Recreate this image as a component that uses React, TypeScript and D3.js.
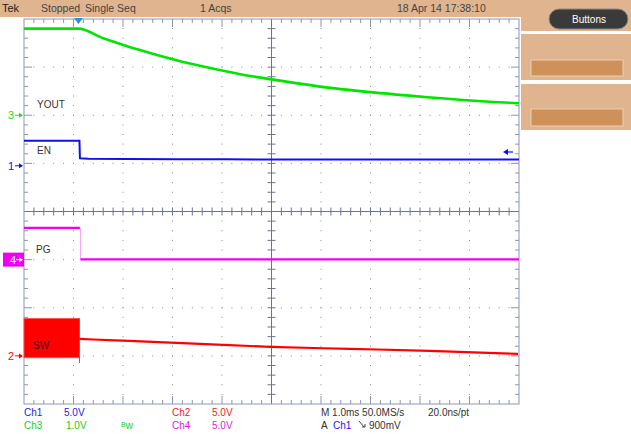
import React from 'react';
import * as d3 from 'd3';

// scope settings
const timeDomain = [-1.1, 8.9]; // ms, 1.0 ms/div, trigger at 0
const divsX = 10;
const divsY = 8;

// YOUT (Ch3, 1.0 V/div)
const youtT = [-1.1, 0, 0.5, 1, 1.5, 2, 2.5, 3, 3.5, 4, 5, 6, 7, 8, 8.9];
const youtV = [1.8, 1.8, 1.6, 1.43, 1.28, 1.14, 1.02, 0.91, 0.81, 0.73, 0.58, 0.47, 0.38, 0.3, 0.25];

// EN (Ch1, 5.0 V/div)
const enT = [-1.1, 0.02, 0.03, 0.2, 1, 2, 3, 4, 5, 6, 7, 8, 8.9];
const enV = [2.6, 2.6, 0.78, 0.72, 0.7, 0.68, 0.67, 0.66, 0.66, 0.65, 0.65, 0.65, 0.65];

// PG (Ch4, 5.0 V/div)
const pgHighT = [-1.1, 0.03];
const pgHighV = [3.3, 3.3];
const pgLowT = [0.04, 8.9];
const pgLowV = [0.02, 0.02];

// SW (Ch2, 5.0 V/div): switching burst then decay
const swBurst = { start: -1.1, end: 0.02, high: 3.9, low: -0.2, spike: -0.75 };
const swT = [0.02, 0.3, 1.03, 2.45, 3.87, 5.48, 7.1, 8.88];
const swV = [1.77, 1.7, 1.56, 1.25, 0.94, 0.73, 0.52, 0.21];

const channels = {
  ch1: { offset: 0.95, vdiv: 5, color: '#1010ee' },
  ch2: { offset: -3.0, vdiv: 5, color: '#ff0000' },
  ch3: { offset: 2.0, vdiv: 1, color: '#00e600' },
  ch4: { offset: -1.0, vdiv: 5, color: '#f000f0' },
};

const W = 631;
const H = 434;
const left = 24, right = 519, top = 19, bottom = 404;
const tan = '#dfb48e';
const gridCol = '#6a7296';
const frameCol = '#8c95b8';
const font = '"Liberation Sans", Arial, sans-serif';

const App: React.FC = () => {
  const x = d3.scaleLinear().domain(timeDomain).range([left, right]);
  const yd = d3.scaleLinear().domain([-divsY / 2, divsY / 2]).range([bottom, top]);
  const yOf = (ch: keyof typeof channels) => (v: number) =>
    yd(channels[ch].offset + v / channels[ch].vdiv);

  const mk = (ch: keyof typeof channels, ts: number[], vs: number[], curve = d3.curveLinear) =>
    d3.line<number>()
      .x((_, i) => x(ts[i]))
      .y((v) => yOf(ch)(v))
      .curve(curve)(vs) || '';

  const dx = (right - left) / divsX;
  const dy = (bottom - top) / divsY;
  const cx = left + dx * 5;
  const cy = top + dy * 4;

  const grid: JSX.Element[] = [];
  // dotted major lines
  for (let i = 1; i < divsX; i++) {
    if (i === 5) continue;
    const gx = left + i * dx;
    for (let j = 1; j < divsY * 5; j++) {
      grid.push(<rect key={`dv${i}-${j}`} x={gx - 0.5} y={top + (j * dy) / 5 - 0.5} width={1} height={1} fill="#8a8a8a" />);
    }
  }
  for (let j = 1; j < divsY; j++) {
    if (j === 4) continue;
    const gy = top + j * dy;
    for (let i = 1; i < divsX * 5; i++) {
      grid.push(<rect key={`dh${j}-${i}`} x={left + (i * dx) / 5 - 0.5} y={gy - 0.5} width={1} height={1} fill="#8a8a8a" />);
    }
  }
  // centre cross ticks and edge ticks
  for (let i = 1; i < divsX * 5; i++) {
    const tx = left + (i * dx) / 5;
    const major = i % 5 === 0;
    grid.push(<line key={`ct${i}`} x1={tx} x2={tx} y1={cy - 4} y2={cy + 4} stroke={gridCol} />);
    grid.push(<line key={`tt${i}`} x1={tx} x2={tx} y1={top} y2={top + (major ? 8 : 4)} stroke={frameCol} />);
    grid.push(<line key={`bt${i}`} x1={tx} x2={tx} y1={bottom} y2={bottom - (major ? 8 : 4)} stroke={frameCol} />);
  }
  for (let j = 1; j < divsY * 5; j++) {
    const ty = top + (j * dy) / 5;
    const major = j % 5 === 0;
    grid.push(<line key={`cv${j}`} x1={cx - 4} x2={cx + 4} y1={ty} y2={ty} stroke={gridCol} />);
    grid.push(<line key={`lt${j}`} x1={left} x2={left + (major ? 8 : 4)} y1={ty} y2={ty} stroke={frameCol} />);
    grid.push(<line key={`rt${j}`} x1={right} x2={right - (major ? 8 : 4)} y1={ty} y2={ty} stroke={frameCol} />);
  }

  const marker = (label: string, y: number, color: string) => (
    <g key={label}>
      <text x={8} y={y + 4} fill={color} fontSize={11} fontFamily={font}>{label}</text>
      <line x1={15} x2={22} y1={y} y2={y} stroke={color} strokeWidth={1} />
      <path d={`M${23},${y} L${19},${y - 2.5} L${19},${y + 2.5} Z`} fill={color} />
    </g>
  );

  const y4 = yOf('ch4')(0);
  const txt = (s: string, tx: number, ty: number, color: string, size = 10) => (
    <text x={tx} y={ty} fill={color} fontSize={size} fontFamily={font}>{s}</text>
  );

  return (
    <div style={{ position: 'fixed', left: 0, top: 0, width: W, height: H, background: '#fff' }}>
      <svg width={W} height={H} style={{ display: 'block' }}>
        <rect x={0} y={0} width={W} height={H} fill="#fff" />
        {/* top status bar */}
        <rect x={0} y={0} width={W} height={17} fill={tan} />
        {/* right panel */}
        <rect x={521} y={0} width={110} height={31} fill={tan} />
        <rect x={521} y={34} width={110} height={46} fill={tan} />
        <rect x={521} y={84} width={110} height={46} fill={tan} />
        <rect x={531} y={60} width={92} height={16} fill="#cd9159" stroke="#edd0b0" strokeWidth={1} />
        <rect x={531} y={109} width={92} height={17} fill="#cd9159" stroke="#edd0b0" strokeWidth={1} />
        <rect x={549} y={9} width={79} height={20} rx={10} fill="#3a3a3a" stroke="#8a8a8a" />
        <text x={589} y={23} fill="#fff" fontSize={10} fontFamily={font} textAnchor="middle">Buttons</text>

        {txt('Tek', 2, 12, '#222', 11)}
        {txt('Stopped', 41, 12, '#444', 10.5)}
        {txt('Single Seq', 85, 12, '#444', 10.5)}
        {txt('1 Acqs', 200, 12, '#444', 10.5)}
        {txt('18 Apr 14 17:38:10', 397, 12, '#444', 10.5)}

        {/* graticule */}
        {grid}
        <line x1={cx} x2={cx} y1={top} y2={bottom} stroke={gridCol} />
        <line x1={left} x2={right} y1={cy} y2={cy} stroke={gridCol} />
        <rect x={left} y={top} width={right - left} height={bottom - top} fill="none" stroke={frameCol} />

        {/* SW burst */}
        <rect
          x={x(swBurst.start)}
          y={yOf('ch2')(swBurst.high)}
          width={x(swBurst.end) - x(swBurst.start)}
          height={yOf('ch2')(swBurst.low) - yOf('ch2')(swBurst.high)}
          fill={channels.ch2.color}
          stroke="#ff5a5a"
          strokeWidth={0.8}
        />
        <line x1={x(swBurst.end)} x2={x(swBurst.end)} y1={yOf('ch2')(swBurst.high)} y2={yOf('ch2')(swBurst.spike)} stroke="#ff3030" strokeWidth={1} />
        <path d={mk('ch2', swT, swV, d3.curveMonotoneX)} fill="none" stroke={channels.ch2.color} strokeWidth={2.2} />

        {/* traces */}
        <line x1={x(pgHighT[1]) + 0.5} x2={x(pgHighT[1]) + 0.5} y1={yOf('ch4')(pgHighV[1])} y2={yOf('ch4')(pgLowV[0])} stroke="#f7a0f7" strokeWidth={1} />
        <path d={mk('ch4', pgHighT, pgHighV)} fill="none" stroke={channels.ch4.color} strokeWidth={2.2} />
        <path d={mk('ch4', pgLowT, pgLowV)} fill="none" stroke={channels.ch4.color} strokeWidth={2.2} />
        <path d={mk('ch1', enT, enV)} fill="none" stroke={channels.ch1.color} strokeWidth={2} />
        <path d={mk('ch3', youtT, youtV, d3.curveMonotoneX)} fill="none" stroke={channels.ch3.color} strokeWidth={2.6} />

        {/* labels */}
        {txt('YOUT', 37, 108, '#333')}
        {txt('EN', 37, 154, '#333')}
        {txt('PG', 36, 253, '#333')}
        {txt('SW', 33, 349, '#4a0a0a')}

        {/* trigger position and level */}
        <path d={`M${x(0) - 4.5},${top - 1} L${x(0) + 4.5},${top - 1} L${x(0)},${top + 5} Z`} fill="#2f8fd6" />
        <line x1={505} x2={513} y1={152} y2={152} stroke={channels.ch1.color} strokeWidth={1.2} />
        <path d="M503,152 L508,149 L508,155 Z" fill={channels.ch1.color} />

        {/* channel markers */}
        {marker('3', yOf('ch3')(0), '#22dd22')}
        {marker('1', yOf('ch1')(0), channels.ch1.color)}
        {marker('2', yOf('ch2')(0), channels.ch2.color)}
        <rect x={3} y={y4 - 7} width={21} height={14} fill={channels.ch4.color} />
        <text x={10} y={y4 + 4} fill="#fff" fontSize={11} fontFamily={font}>4</text>
        <line x1={16} x2={22} y1={y4} y2={y4} stroke="#fff" />
        <path d={`M${23},${y4} L${19},${y4 - 2.5} L${19},${y4 + 2.5} Z`} fill="#fff" />

        {/* bottom readouts */}
        {txt('Ch1', 24, 416, '#2222ee')}
        {txt('5.0V', 64, 416, '#2222ee')}
        {txt('Ch3', 24, 429, '#22cc22')}
        {txt('1.0V', 66, 429, '#22cc22')}
        <text x={121} y={429} fill="#22cc22" fontFamily={font}>
          <tspan fontSize={7} dy={-2}>B</tspan>
          <tspan fontSize={10} dy={2}>w</tspan>
        </text>
        {txt('Ch2', 172, 416, '#ee2222')}
        {txt('5.0V', 212, 416, '#ee2222')}
        {txt('Ch4', 172, 429, '#e020e0')}
        {txt('5.0V', 212, 429, '#e020e0')}
        {txt('M 1.0ms 50.0MS/s', 321, 416, '#333')}
        {txt('20.0ns/pt', 428, 416, '#333')}
        {txt('A', 321, 429, '#333')}
        {txt('Ch1', 333, 429, '#2222ee')}
        <path d="M359,421 L364,427 M362,427 L365,427 L365,424" fill="none" stroke="#333" strokeWidth={0.9} />
        {txt('900mV', 369, 429, '#333')}
      </svg>
    </div>
  );
};

export default App;
